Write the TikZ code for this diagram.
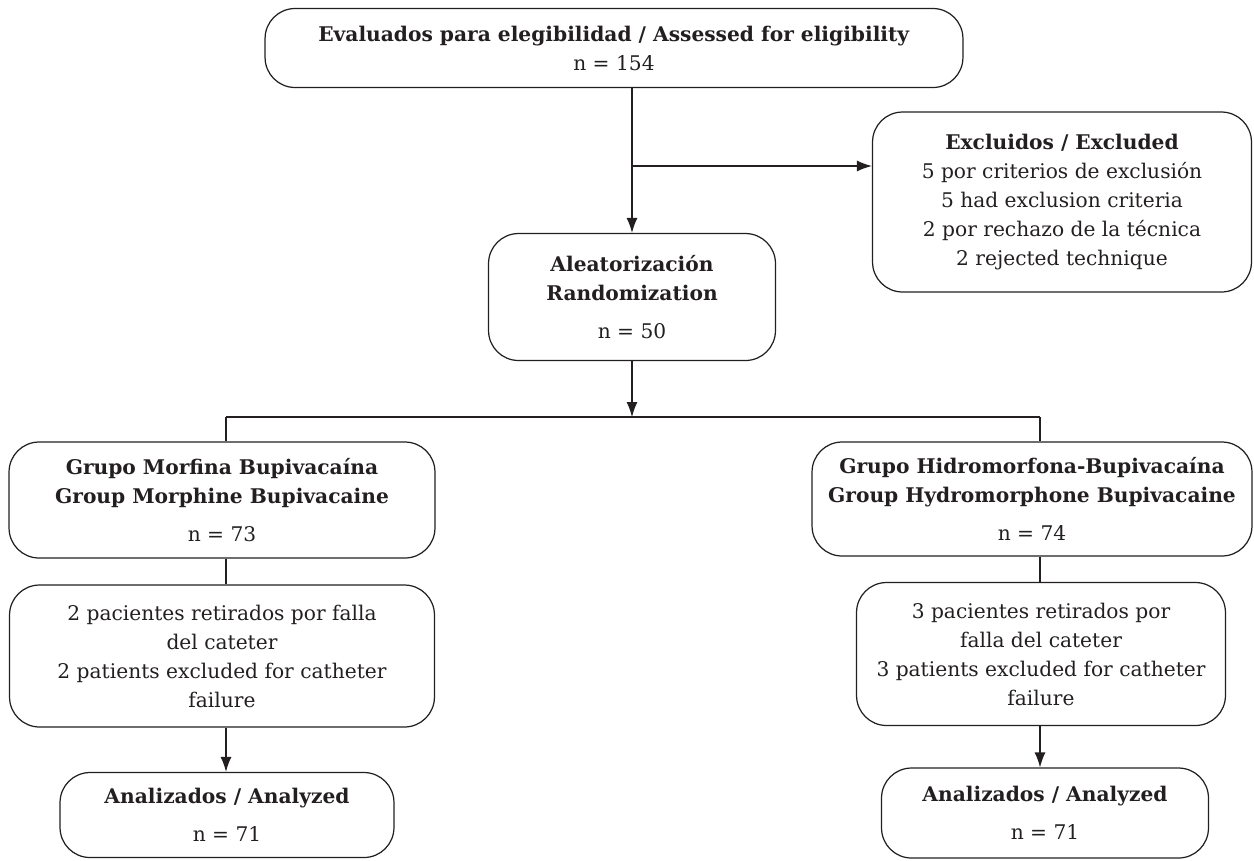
\documentclass[tikz,border=0pt]{standalone}
\usepackage{fontspec}
\setmainfont{DejaVu Serif}
\usetikzlibrary{arrows.meta,positioning,calc}
\definecolor{ink}{HTML}{231F20}

\begin{document}
\begin{tikzpicture}[
x=0.02cm,y=-0.02cm,
block/.style={
draw=ink,
line width=0.7pt,
rounded corners=0.6cm,
rectangle,
align=center,
text=ink,
inner sep=0pt,
font=\fontsize{11.5}{16.5}\selectfont},
arr/.style={draw=ink,line width=0.7pt,-{Latex[length=3mm,width=2.2mm]}},
lin/.style={draw=ink,line width=0.7pt}]
\useasboundingbox (0,0) rectangle (1254,860);

% top of the chart
\node[block,minimum width=13.96cm,minimum height=1.58cm](elig) at (614,48)
{\textbf{Evaluados para elegibilidad / Assessed for eligibility}\\n = 154};
\node[block,minimum width=7.58cm,minimum height=3.6cm](excl) at (1062,202)
{\textbf{Excluidos / Excluded}\\5 por criterios de exclusión\\5 had exclusion criteria\\2 por rechazo de la técnica\\2 rejected technique};
\node[block,minimum width=5.74cm,minimum height=2.54cm](rand) at (632,297)
{\textbf{Aleatorización}\\\textbf{Randomization}\\[5pt]n = 50};

% the two groups
\node[block,minimum width=8.52cm,minimum height=2.32cm](grpm) at (222,500)
{\textbf{Grupo Morfina Bupivacaína}\\\textbf{Group Morphine Bupivacaine}\\[5pt]n = 73};
\node[block,minimum width=8.8cm,minimum height=2.28cm](grph) at (1032,499)
{\textbf{Grupo Hidromorfona-Bupivacaína}\\\textbf{Group Hydromorphone Bupivacaine}\\[5pt]n = 74};
\node[block,minimum width=8.5cm,minimum height=2.84cm](retm) at (222,656)
{2 pacientes retirados por falla\\del cateter\\2 patients excluded for catheter\\failure};
\node[block,minimum width=7.38cm,minimum height=2.86cm](reth) at (1041,654)
{3 pacientes retirados por\\falla del cateter\\3 patients excluded for catheter\\failure};
\node[block,minimum width=6.68cm,minimum height=1.7cm](anam) at (227,815)
{\textbf{Analizados / Analyzed}\\[5pt]n = 71};
\node[block,minimum width=6.54cm,minimum height=1.8cm](anah) at (1045,813)
{\textbf{Analizados / Analyzed}\\[5pt]n = 71};

\coordinate (br) at (632,166);
\coordinate (split) at (632,417);
\coordinate (splitl) at (226,417);
\coordinate (splitr) at (1040,417);

\draw[arr] (rand.north |- elig.south) -- (rand.north);
\draw[arr] (br) -- (br -| excl.west);
\draw[arr] (rand.south) -- (split);
\draw[lin] (splitl) -- (splitr);
\draw[lin] (splitl) -- (splitl |- grpm.north);
\draw[lin] (splitr) -- (splitr |- grph.north);
\draw[lin] (splitl |- grpm.south) -- (splitl |- retm.north);
\draw[lin] (splitr |- grph.south) -- (splitr |- reth.north);
\draw[arr] (splitl |- retm.south) -- (splitl |- anam.north);
\draw[arr] (splitr |- reth.south) -- (splitr |- anah.north);
\end{tikzpicture}
\end{document}
